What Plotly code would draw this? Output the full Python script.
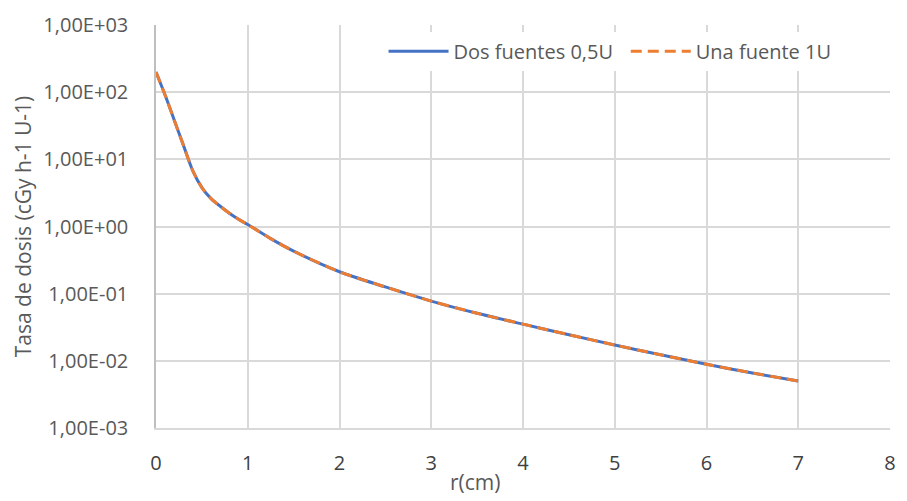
import plotly.graph_objects as go

r_cm = [0, 0.1, 0.2, 0.3, 0.4, 0.5, 0.6, 0.7, 0.8, 0.9, 1.0, 1.25, 1.5, 2, 2.5, 3, 3.5, 4, 4.5, 5, 5.5, 6, 6.5, 7]
dos_fuentes = [200, 90, 38, 16, 6.8, 3.8, 2.6, 2.0, 1.58, 1.28, 1.07, 0.66, 0.43, 0.212, 0.126, 0.0775, 0.051, 0.0352, 0.0245, 0.0172, 0.0123, 0.0089, 0.0066, 0.0050]
una_fuente = [200, 90, 38, 16, 6.8, 3.8, 2.6, 2.0, 1.58, 1.28, 1.07, 0.66, 0.43, 0.212, 0.126, 0.0775, 0.051, 0.0352, 0.0245, 0.0172, 0.0123, 0.0089, 0.0066, 0.0050]

y_tickvals = [1e-3, 1e-2, 1e-1, 1e0, 1e1, 1e2, 1e3]
y_ticktext = ["1,00E-03", "1,00E-02", "1,00E-01", "1,00E+00", "1,00E+01", "1,00E+02", "1,00E+03"]
x_tickvals = [0, 1, 2, 3, 4, 5, 6, 7, 8]

FONT = "Open Sans"
GRAY = "#595959"

fig = go.Figure()
fig.add_trace(go.Scatter(x=r_cm, y=dos_fuentes, mode="lines", name="Dos fuentes 0,5U", legend="legend",
                         line=dict(color="#4472C4", width=3, shape="spline", smoothing=0.8)))
fig.add_trace(go.Scatter(x=r_cm, y=una_fuente, mode="lines", name="Una fuente 1U", legend="legend2",
                         line=dict(color="#ED7D31", width=3, dash="11px,6px", shape="spline", smoothing=0.8)))

leg_common = dict(orientation="h", y=0.935, yanchor="middle", xanchor="left",
                  bgcolor="rgba(255,255,255,1)", font=dict(size=20, color=GRAY), itemwidth=60)

fig.update_layout(
    width=907, height=501,
    margin=dict(l=156, r=11, t=17, b=73),
    paper_bgcolor="white", plot_bgcolor="white",
    font=dict(family=FONT, size=20, color=GRAY),
    showlegend=True,
    legend=dict(x=0.31, **leg_common),
    legend2=dict(x=0.64, **leg_common),
    annotations=[dict(text="r(cm)", xref="paper", yref="paper", x=0.434, y=-0.135,
                      xanchor="center", yanchor="middle", showarrow=False,
                      font=dict(size=21, color=GRAY))],
)
fig.update_xaxes(range=[0, 8], tickvals=x_tickvals, showgrid=True, gridcolor="#D9D9D9", gridwidth=1.5,
                 showline=True, linecolor="#D9D9D9", linewidth=1.5, zeroline=False,
                 ticks="", ticklabelstandoff=16, tickfont=dict(size=20, color="#404040"))
fig.update_yaxes(type="log", range=[-3, 3], tickvals=y_tickvals, ticktext=y_ticktext,
                 showgrid=True, gridcolor="#D9D9D9", gridwidth=1.5,
                 showline=True, linecolor="#BFBFBF", linewidth=1.5, zeroline=False,
                 ticks="", ticklabelstandoff=22, tickfont=dict(size=20, color=GRAY),
                 title=dict(text="Tasa de dosis (cGy h-1 U-1)", standoff=6, font=dict(size=21, color=GRAY)))

fig.write_html("out.html")
